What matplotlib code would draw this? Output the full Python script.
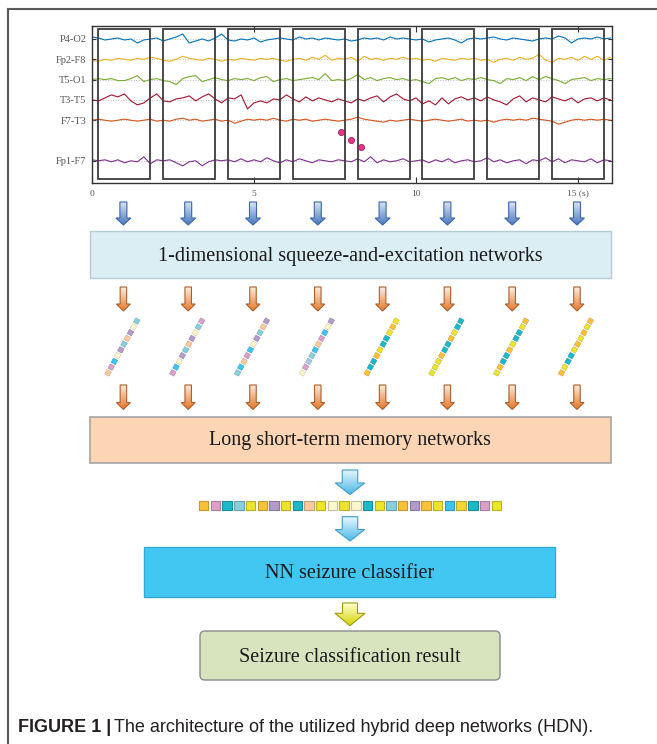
import numpy as np
import matplotlib.pyplot as plt
from matplotlib.patches import Polygon, Rectangle, FancyBboxPatch
from matplotlib.markers import MarkerStyle
from matplotlib.transforms import Affine2D
from matplotlib.colors import LinearSegmentedColormap, to_rgb

# ---- data -------------------------------------------------------------
channels = ["P4-O2", "Fp2-F8", "T5-O1", "T3-T5", "F7-T3", "Fp1-F7"]
chan_pos = [0, 1, 2, 3, 4, 6]
chan_colors = ["#0072BD", "#EDB120", "#77AC30", "#A2142F", "#D95319", "#7E2F8E"]

# EEG traces, one sample every 0.2 s (arbitrary amplitude units)
p4_o2 = [2, 1, -1, 0, 1, -1, 0, -4, -1, 0, 1, -2, 0, 2, 5, -4, -2, 0, -2, 1,
         5, -1, -2, 0, -1, 1, -3, -1, 0, 1, 0, -1, 2, 0, 1, -1, 1, 0, -1, 0,
         -2, -1, 1, 0, 1, -1, 2, 0, 1, 0, -1, 0, -3, -1, 0, 1, -1, -4, 0, 1,
         0, 1, 2, 0, -1, 1, 0, -1, -2, 0, 1, 0, 3, 1, -4, 0, 1, 0, 2, 0, 1]
fp2_f8 = [-1, -2, 0, -1, 1, 0, -1, 1, 0, 2, 1, -1, -2, 0, 3, 1, 0, -1, 1, 0,
          -2, 0, -1, 1, 0, -1, 1, 0, 1, -1, -2, 0, 1, -1, 2, 0, 4, -1, 1, 0,
          2, -2, 3, 0, 1, -1, 1, 0, 2, 0, 1, -1, 0, -2, 1, 0, -1, 1, 0, 1,
          -1, 0, -3, 0, 1, -1, 2, 0, 1, 5, -1, -3, 1, 0, 2, -1, 3, 0, 3, -1, 2]
t5_o1 = [0, 1, 0, 1, -1, -1, 1, 4, -2, 0, 1, -1, -2, -5, 1, 3, 4, -2, 0, 2,
         0, -1, 1, 0, 1, -1, 2, 3, -2, 0, 1, -1, 0, 1, 2, 0, 6, -1, 0, -1,
         1, 5, 0, 2, -1, 1, 2, 0, 1, -1, 0, -2, -4, 1, 2, 0, 2, -1, 1, 0,
         2, 0, -1, -4, 1, 0, 2, -1, 3, 0, 3, 1, -1, -4, 0, 1, 2, -1, 1, 0, 1]
t3_t5 = [0, -1, 2, 5, 3, 6, -1, -5, -3, 2, 6, -1, -2, 1, 2, 4, -1, 3, 6, 1,
         -3, 2, 1, 5, -9, -3, -1, -3, 1, 0, 5, 1, -2, 3, -1, 2, 0, -2, 1, -1,
         -3, 1, -1, 2, 4, -2, 3, 6, 1, -1, 2, -4, -1, -5, 2, -4, 1, 3, 0, 2,
         -1, 3, 0, -2, -5, 1, 4, -2, 2, 0, -2, 3, 1, -1, 2, -3, 1, 2, -1, 2, 0]
f7_t3 = [0, 1, 0, -1, 0, 1, 0, -1, 0, 1, -1, 0, -1, 1, 2, 0, 1, -1, 0, 1,
         -1, 0, -3, -1, 1, 0, 1, 0, 2, 0, -1, 1, 0, 1, -1, 0, 1, 0, -1, 0,
         1, 3, 1, 0, -1, -2, 0, -1, 0, 1, 0, -1, 0, 1, 0, -1, 0, 1, -1, 0,
         -1, 0, -2, 0, 1, 0, 1, 0, 2, 1, 0, -1, -4, -2, 0, 1, 0, 1, 0, 1, 0]
fp1_f7 = [1, 0, 1, -1, 1, -2, 0, -1, 4, -3, 1, 0, 1, -2, -5, -1, 0, -5, -1, 1,
          0, 1, -1, 2, -1, 1, -1, 3, 0, -2, 1, -1, 2, 0, -2, 1, 0, -1, 1, 0,
          -1, 2, -1, 4, -2, 1, -1, 0, 2, -1, 0, 1, -2, 1, -1, 2, -2, 0, 1, -1,
          0, 3, -1, 1, -2, 0, 1, -3, 1, 0, 3, -1, 2, -2, 1, 0, -1, 2, -2, 1, 0]
traces = [p4_o2, fp2_f8, t5_o1, t3_t5, f7_t3, fp1_f7]

win_start = [0.2, 2.2, 4.2, 6.2, 8.2, 10.2, 12.2, 14.2]   # s
win_len = 1.6                                            # s
missing_t = [7.69, 7.99, 8.30]
missing_y = [4.58, 4.98, 5.34]

xticks = [0, 5, 10, 15]
xticklabels = ["0", "5", "10", "15 (s)"]

pal = {'peach': '#FBC99B', 'pink': '#D9A1C7', 'blue': '#3FC4F1', 'cream': '#FDF8CC',
       'purple': '#B39BCB', 'lcyan': '#86D0DC', 'lblue': '#A9C9E9', 'yellow': '#EDE42C',
       'orange': '#FDC138', 'teal': '#1DB8C9', 'gold': '#F5D535'}
chains = [
    ['peach', 'pink', 'blue', 'cream', 'purple', 'lcyan', 'peach', 'purple', 'cream', 'lcyan'],
    ['pink', 'blue', 'cream', 'purple', 'lcyan', 'peach', 'purple', 'cream', 'lcyan', 'pink'],
    ['lcyan', 'blue', 'peach', 'pink', 'blue', 'cream', 'purple', 'lcyan', 'peach', 'purple'],
    ['cream', 'pink', 'lblue', 'lcyan', 'blue', 'peach', 'pink', 'blue', 'cream', 'purple'],
    ['orange', 'teal', 'teal', 'orange', 'yellow', 'teal', 'teal', 'yellow', 'orange', 'yellow'],
    ['yellow', 'yellow', 'yellow', 'orange', 'teal', 'teal', 'orange', 'yellow', 'teal', 'teal'],
    ['yellow', 'orange', 'teal', 'teal', 'orange', 'yellow', 'teal', 'teal', 'yellow', 'orange'],
    ['orange', 'yellow', 'teal', 'teal', 'yellow', 'orange', 'yellow', 'orange', 'yellow', 'orange'],
]
strip = ['orange', 'pink', 'teal', 'lcyan', 'yellow', 'orange', 'purple', 'yellow', 'teal',
         'peach', 'yellow', 'cream', 'yellow', 'cream', 'teal', 'yellow', 'lcyan', 'orange',
         'purple', 'orange', 'yellow', 'blue', 'gold', 'teal', 'pink', 'yellow']

box_texts = ["1-dimensional squeeze-and-excitation networks", "Long short-term memory networks",
             "NN seizure classifier", "Seizure classification result"]

# ---- figure -----------------------------------------------------------
W, H = 657, 744
fig = plt.figure(figsize=(W / 100, H / 100), dpi=100)
ax = fig.add_axes([0, 0, 1, 1])
ax.axis('off')
ax.set_xlim(0, W)
ax.set_ylim(H, 0)
ax.set_autoscale_on(False)

serif = 'Liberation Serif'
box_fs = 14.5

# EEG panel
ex0, ex1, ey0, ey1 = 92, 612, 25.7, 182.7
axe = fig.add_axes([ex0 / W, 1 - ey1 / H, (ex1 - ex0) / W, (ey1 - ey0) / H])
px_per_unit = 20.3
for pos, vals, c in zip(chan_pos, traces, chan_colors):
    t = np.linspace(0, 16.0, len(vals))
    axe.axhline(pos, color='#BDBDBD', ls=':', lw=0.7, zorder=1)
    axe.plot(t, pos - np.array(vals) / px_per_unit, color=c, lw=0.8, zorder=2)
for s in win_start:
    axe.add_patch(Rectangle((s, -0.478), win_len, 7.375, fill=False,
                            ec='#3c3c3c', lw=1.3, zorder=3))
axe.scatter(missing_t, missing_y, s=20, color='#E8338A', edgecolor='#8B1A4A',
            linewidth=0.5, zorder=4)
axe.set_xlim(0, 16.05)
axe.set_ylim(7.079, -0.655)
axe.set_xticks(xticks)
axe.set_xticklabels(xticklabels, family=serif, fontsize=6.8, color='#555555')
axe.set_yticks(chan_pos)
axe.set_yticklabels(channels, family=serif, fontsize=7.5, color='#555555')
axe.tick_params(axis='x', direction='in', top=True, length=4, width=0.8, pad=5, color='#333333')
axe.tick_params(axis='y', direction='in', right=True, length=3, width=0.8, pad=4, color='#333333')
for sp in axe.spines.values():
    sp.set_color('#333333')
    sp.set_linewidth(1.0)

# window centres in pixel space (EEG data -> figure pixels)
cxs = [ex0 + (s + win_len / 2) / 16.05 * (ex1 - ex0) - 1 for s in win_start]


def block_arrow(cx, top, bot, shaft, head, head_h, c0, c1, ec, lw=0.8):
    hs, hh = shaft / 2, head / 2
    yh = bot - head_h
    verts = [(cx - hs, top), (cx + hs, top), (cx + hs, yh), (cx + hh, yh),
             (cx, bot), (cx - hh, yh), (cx - hs, yh)]
    poly = Polygon(verts, closed=True, fc='none', ec=ec, lw=lw, zorder=3)
    ax.add_patch(poly)
    cmap = LinearSegmentedColormap.from_list('g', [c0, c1])
    grad = np.linspace(0, 1, 64).reshape(-1, 1)
    im = ax.imshow(grad, cmap=cmap, extent=(cx - hh, cx + hh, bot, top),
                   aspect='auto', zorder=2, interpolation='bilinear')
    im.set_clip_path(poly)


def darker(c, f=0.8):
    return tuple(v * f for v in to_rgb(c))


# outer frame
ax.plot([8, 8], [H, 9], color='#5a5a5a', lw=1.5)
ax.plot([8, W], [9, 9], color='#5a5a5a', lw=1.5)

# blue arrows under the windows
for cx in cxs:
    block_arrow(cx, 202, 225, 7, 15, 7, '#D8E4F4', '#4A78BE', '#3D66A8')

# SE box
ax.add_patch(Rectangle((89.5, 231), 521.5, 47, fc='#DBEEF4', ec='#B4CCD6', lw=1))
ax.text(350, 256, box_texts[0], family=serif, fontsize=box_fs, ha='center', va='center', color='#1a1a1a')

# orange arrows + feature chains
sq = MarkerStyle('s', transform=Affine2D().rotate_deg(61))
for cx, chain in zip(cxs, chains):
    block_arrow(cx, 287, 311, 6.5, 14, 7, '#FDEEE2', '#E8782A', '#A8602E')
    block_arrow(cx, 385, 409.5, 6.5, 14, 7, '#FDEEE2', '#E8782A', '#A8602E')
    i = np.arange(len(chain)) - (len(chain) - 1) / 2
    cols = [pal[k] for k in chain]
    ax.scatter(cx - 1 + i * 3.2, 347 - i * 5.75, marker=sq, s=3.5 ** 2, c=cols,
               edgecolors=[darker(pal[k], 0.8) for k in chain], linewidths=0.35, zorder=4)

# LSTM box
ax.add_patch(Rectangle((89.5, 416.7), 521.5, 46.6, fc='#FCD5B4', ec='#A6A6A6', lw=1.2))
ax.text(350, 441, box_texts[1], family=serif, fontsize=box_fs, ha='center', va='center', color='#1a1a1a')

# big blue arrows and the flattened strip
block_arrow(350, 470, 494.5, 15.5, 29.5, 11.5, '#EAF8FE', '#4FB9E8', '#3C9CCB')
j = np.arange(len(strip)) - (len(strip) - 1) / 2
ax.scatter(350 + j * 11.7, np.full(len(strip), 505.7), marker='s', s=6.8 ** 2,
           c=[pal[k] for k in strip], edgecolors=[darker(pal[k], 0.78) for k in strip],
           linewidths=0.8, zorder=4)
block_arrow(350, 516.7, 541, 15.5, 29.5, 11.5, '#EAF8FE', '#4FB9E8', '#3C9CCB')

# NN box
ax.add_patch(Rectangle((144, 546.5), 411, 50, fc='#42C7F3', ec='#35A9D6', lw=1))
ax.text(350, 573, box_texts[2], family=serif, fontsize=box_fs, ha='center', va='center', color='#1a1a1a')

# yellow arrow
block_arrow(350, 603, 625.7, 15, 30, 12.4, '#FFFFD2', '#D4D400', '#9C9C10')

# result box
ax.add_patch(FancyBboxPatch((200, 631), 300, 49, boxstyle='round,pad=0,rounding_size=5',
                            fc='#D7E4BD', ec='#8C8C8C', lw=1))
ax.text(350, 657, box_texts[3], family=serif, fontsize=box_fs, ha='center', va='center', color='#1a1a1a')

# caption
ax.set_xlim(0, W)
ax.set_ylim(H, 0)
cap_fs = 13
t1 = ax.text(18, 732, "FIGURE 1 |", family='Liberation Sans', fontweight='bold',
             fontsize=cap_fs, color='#231f20', va='baseline')
fig.canvas.draw()
bb = t1.get_window_extent(fig.canvas.get_renderer())
ax.text(bb.x1 + 3, 732, "The architecture of the utilized hybrid deep networks (HDN).",
        family='Liberation Sans', fontsize=cap_fs, color='#231f20', va='baseline')

fig.savefig('out.png', dpi=100)
